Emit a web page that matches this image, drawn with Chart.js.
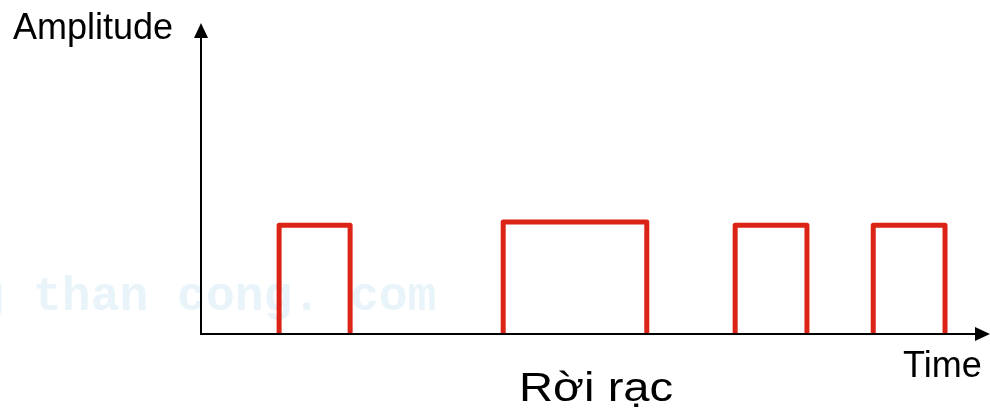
<!DOCTYPE html>
<html>
<head>
<meta charset="utf-8">
<script src="https://cdn.jsdelivr.net/npm/chart.js@4.4.1/dist/chart.umd.min.js"></script>
<style>
  html, body { margin: 0; padding: 0; background: #fff; }
  #wrap { width: 990px; height: 412px; position: relative; }
</style>
</head>
<body>
<div id="wrap"><canvas id="chartPulsos"></canvas></div>
<script>
// ==================== DATOS ====================
// start / end time of each pulse and its amplitude (time axis 0..100, amplitude 0..10)
const pulseStart = [9.9, 38.3, 67.7, 85.2];
const pulseEnd   = [18.9, 56.5, 76.8, 94.3];
const pulseAmp   = [3.5, 3.6, 3.5, 3.5];

const yLabel = 'Amplitude';
const xLabel = 'Time';
const caption = 'Rời rạc';
const watermark = 'cuu duong than cong. com';

const rojo = '#dc2416';

// ==================== PLUGIN: ejes, flechas y textos ====================
const ejesPlugin = {
    id: 'ejes',
    beforeDatasetsDraw(chart) {
        const ctx = chart.ctx;
        ctx.save();
        ctx.fillStyle = '#e8f4fa';
        ctx.font = 'bold 48px "Liberation Mono", "Courier New", monospace';
        ctx.textBaseline = 'alphabetic';
        ctx.fillText(watermark, -255, 310);
        ctx.restore();
    },
    afterDatasetsDraw(chart) {
        const ctx = chart.ctx;
        const a = chart.chartArea;
        ctx.save();
        ctx.strokeStyle = '#000';
        ctx.fillStyle = '#000';
        ctx.lineWidth = 2;

        // eje Y
        ctx.beginPath();
        ctx.moveTo(a.left, a.bottom);
        ctx.lineTo(a.left, a.top + 14);
        ctx.stroke();
        ctx.beginPath();
        ctx.moveTo(a.left, a.top);
        ctx.lineTo(a.left - 7, a.top + 15);
        ctx.lineTo(a.left + 7, a.top + 15);
        ctx.closePath();
        ctx.fill();

        // eje X
        ctx.beginPath();
        ctx.moveTo(a.left - 1, a.bottom);
        ctx.lineTo(a.right - 14, a.bottom);
        ctx.stroke();
        ctx.beginPath();
        ctx.moveTo(a.right, a.bottom);
        ctx.lineTo(a.right - 15, a.bottom - 7);
        ctx.lineTo(a.right - 15, a.bottom + 7);
        ctx.closePath();
        ctx.fill();

        // textos
        ctx.textBaseline = 'alphabetic';
        ctx.font = '36px "Liberation Sans", Arial, sans-serif';
        ctx.fillText(yLabel, 13, 39);
        ctx.fillText(xLabel, 903, 377);

        ctx.translate(519, 401);
        ctx.scale(1.18, 1);
        ctx.font = '40px "Liberation Sans", Arial, sans-serif';
        ctx.fillText(caption, 0, 0);
        ctx.restore();
    }
};

// ==================== GRÁFICO ====================
document.addEventListener('DOMContentLoaded', function() {
    const ctxPulsos = document.getElementById('chartPulsos').getContext('2d');

    const datasets = pulseStart.map(function(s, i) {
        return {
            data: [
                { x: s, y: 0 },
                { x: s, y: pulseAmp[i] },
                { x: pulseEnd[i], y: pulseAmp[i] },
                { x: pulseEnd[i], y: 0 }
            ],
            borderColor: rojo,
            borderWidth: 5,
            borderJoinStyle: 'round',
            borderCapStyle: 'butt',
            pointRadius: 0,
            tension: 0,
            fill: false
        };
    });

    new Chart(ctxPulsos, {
        type: 'line',
        data: { datasets: datasets },
        options: {
            responsive: true,
            maintainAspectRatio: false,
            animation: false,
            devicePixelRatio: 1,
            layout: { padding: { left: 201, right: 0, top: 23, bottom: 78 } },
            plugins: {
                legend: { display: false },
                tooltip: { enabled: false }
            },
            scales: {
                x: { type: 'linear', min: 0, max: 100, display: false },
                y: { type: 'linear', min: 0, max: 10, display: false }
            }
        },
        plugins: [ejesPlugin]
    });
});
</script>
</body>
</html>
